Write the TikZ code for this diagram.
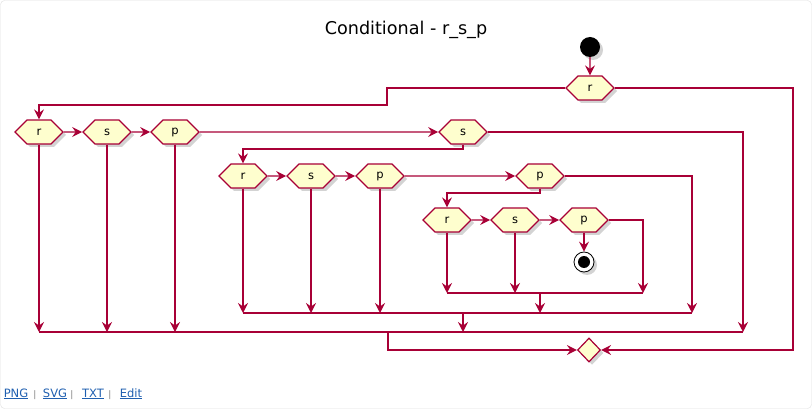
\documentclass[tikz,border=0pt]{standalone}
\usepackage{fontspec}
\setmainfont{DejaVu Sans}
\usetikzlibrary{arrows.meta,shapes.symbols,shapes.geometric,shadows}
\definecolor{pumlred}{HTML}{A80036}
\definecolor{pumlfill}{HTML}{FEFECE}
\definecolor{linkblue}{HTML}{1F5FB0}
\begin{document}
\begin{tikzpicture}[x=1pt,y=-1pt]
	\tikzstyle{every node}+=[inner sep=0pt]
	\tikzstyle{wire}=[draw=pumlred, line width=1.3pt]
	\tikzstyle{arr}=[wire, -{Stealth[length=10pt,width=10pt,inset=3.5pt]}]
	\tikzstyle{sh}=[drop shadow={shadow xshift=3pt, shadow yshift=-3pt, opacity=0.35, fill=gray}]
	\tikzstyle{hexa}=[shape=signal, signal to=east and west, signal pointer angle=90, draw=pumlred, fill=pumlfill, line width=1.2pt, minimum width=48pt, minimum height=24pt, font=\fontsize{11.5}{13}\selectfont, sh]
	\tikzstyle{link}=[text=linkblue, font=\fontsize{11.5}{13}\selectfont, anchor=base]
	\tikzstyle{bar}=[anchor=base, text=gray, font=\fontsize{9}{10}\selectfont]
	\useasboundingbox (0,0) rectangle (812,409);
	\draw [gray!25, rounded corners=4pt] (0.5,0.5) rectangle (811.5,408.5);
	\node (title) at (406,35) [anchor=base, font=\fontsize{17.6}{20}\selectfont] {Conditional - r\_s\_p};
	\node (start) at (590,47) [circle, fill=black, minimum size=20pt, sh] {};
	\node (top) at (590,88) [hexa] {r};
	\node (r1) at (39,132) [hexa] {r};
	\node (s1) at (107,132) [hexa] {s};
	\node (p1) at (175,132) [hexa] {p};
	\node (q1) at (463,132) [hexa] {s};
	\node (r2) at (243,176) [hexa] {r};
	\node (s2) at (311,176) [hexa] {s};
	\node (p2) at (380,176) [hexa] {p};
	\node (q2) at (540,176) [hexa] {p};
	\node (r3) at (447,220) [hexa] {r};
	\node (s3) at (515,220) [hexa] {s};
	\node (p3) at (584,220) [hexa] {p};
	\node (stop) at (584,262) [circle, draw=black, fill=white, line width=0.8pt, minimum size=20pt, sh] {};
	\fill [black] (stop) circle (6);
	\node (merge) at (589,350) [diamond, draw=pumlred, fill=pumlfill, line width=1.2pt, minimum width=23pt, minimum height=24pt, sh] {};
	\coordinate (m3) at (540,293);
	\coordinate (m2) at (463,313);
	\coordinate (m1) at (388,332);
	\draw [arr] (start) -- (top);
	\draw [arr] (top.west) -| (387,105) -| (r1.north);
	\draw [arr] (top.east) -| (793,350) -- (merge.east);
	\draw [arr] (r1) -- (s1);
	\draw [arr] (s1) -- (p1);
	\draw [arr] (p1) -- (q1);
	\draw [arr] (q1.east) -| (743,332);
	\draw [arr] (q1.south) -- (463,149) -| (r2.north);
	\draw [arr] (r2) -- (s2);
	\draw [arr] (s2) -- (p2);
	\draw [arr] (p2) -- (q2);
	\draw [arr] (q2.east) -| (692,313);
	\draw [arr] (q2.south) -- (540,193) -| (r3.north);
	\draw [arr] (r3) -- (s3);
	\draw [arr] (s3) -- (p3);
	\draw [arr] (p3.east) -| (643,293);
	\draw [arr] (p3.south) -- (stop.north);
	\draw [arr] (r3.south) -- (r3 |- m3);
	\draw [arr] (s3.south) -- (s3 |- m3);
	\draw [wire] (r3 |- m3) -- (643,293);
	\draw [arr] (m3) -- (m3 |- m2);
	\draw [arr] (r2.south) -- (r2 |- m2);
	\draw [arr] (s2.south) -- (s2 |- m2);
	\draw [arr] (p2.south) -- (p2 |- m2);
	\draw [wire] (r2 |- m2) -- (692,313);
	\draw [arr] (m2) -- (m2 |- m1);
	\draw [arr] (r1.south) -- (r1 |- m1);
	\draw [arr] (s1.south) -- (s1 |- m1);
	\draw [arr] (p1.south) -- (p1 |- m1);
	\draw [wire] (r1 |- m1) -- (743,332);
	\draw [arr] (m1) |- (merge.west);
	\node (png) at (16,397) [link] {\underline{PNG}};
	\node (bar1) at (35,397) [bar] {|};
	\node (svg) at (55,397) [link] {\underline{SVG}};
	\node (bar2) at (72,397) [bar] {|};
	\node (txt) at (93,397) [link] {\underline{TXT}};
	\node (bar3) at (110,397) [bar] {|};
	\node (edit) at (131,397) [link] {\underline{Edit}};
\end{tikzpicture}
\end{document}
